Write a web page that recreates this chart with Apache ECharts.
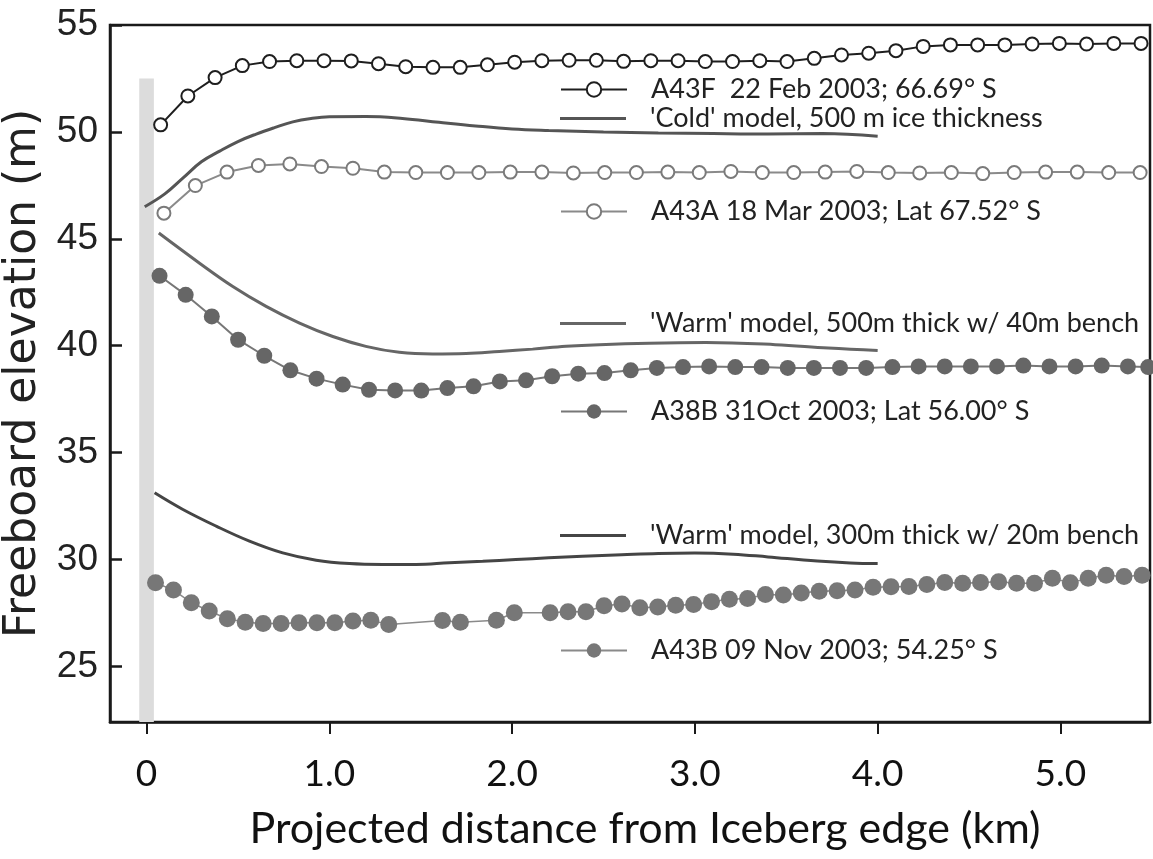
<!DOCTYPE html>
<html>
<head>
<meta charset="utf-8">
<script src="https://cdn.jsdelivr.net/npm/echarts@6/dist/echarts.min.js"></script>
<style>
  html, body { margin: 0; padding: 0; background: #fff; }
  #chart { width: 1153px; height: 859px; }
</style>
</head>
<body>
<div id="chart"></div>
<script>
'use strict'

// A43F 22 Feb 2003 (open black circles)
const xA43F = [0.077, 0.226, 0.375, 0.524, 0.673, 0.822, 0.971, 1.12, 1.269, 1.418, 1.567, 1.716, 1.865, 2.014, 2.163, 2.312, 2.461, 2.61, 2.759, 2.908, 3.057, 3.206, 3.355, 3.504, 3.653, 3.802, 3.951, 4.1, 4.249, 4.398, 4.547, 4.696, 4.845, 4.994, 5.143, 5.292, 5.441]
const yA43F = [50.33, 51.68, 52.54, 53.1, 53.29, 53.33, 53.33, 53.32, 53.19, 53.05, 53.02, 53.02, 53.14, 53.26, 53.33, 53.35, 53.35, 53.3, 53.33, 53.33, 53.29, 53.29, 53.33, 53.29, 53.44, 53.6, 53.68, 53.8, 54.0, 54.07, 54.07, 54.07, 54.11, 54.14, 54.11, 54.14, 54.14]

// A43A 18 Mar 2003 (open grey circles)
const xA43A = [0.095, 0.267, 0.44, 0.612, 0.784, 0.957, 1.129, 1.301, 1.473, 1.646, 1.818, 1.99, 2.163, 2.335, 2.507, 2.68, 2.852, 3.024, 3.197, 3.369, 3.541, 3.713, 3.886, 4.058, 4.23, 4.403, 4.575, 4.747, 4.919, 5.092, 5.264, 5.436]
const yA43A = [46.2, 47.49, 48.12, 48.43, 48.5, 48.38, 48.3, 48.12, 48.1, 48.1, 48.1, 48.12, 48.12, 48.08, 48.1, 48.1, 48.12, 48.1, 48.15, 48.1, 48.1, 48.12, 48.15, 48.1, 48.08, 48.1, 48.05, 48.1, 48.12, 48.12, 48.1, 48.1]

// 'Cold' model, 500 m
const xCold = [-0.01, 0.1, 0.2, 0.3, 0.4, 0.5, 0.6, 0.7, 0.8, 0.9, 1.0, 1.2, 1.4, 1.6, 1.8, 2.0, 2.2, 2.5, 2.8, 3.1, 3.4, 3.7, 4.0]
const yCold = [46.5, 47.1, 47.85, 48.6, 49.1, 49.55, 49.9, 50.2, 50.47, 50.63, 50.71, 50.72, 50.63, 50.45, 50.28, 50.14, 50.07, 50.0, 49.95, 49.92, 49.9, 49.92, 49.8]

// 'Warm' model, 500 m w/ 40 m bench
const xWarm500 = [0.067, 0.29, 0.472, 0.654, 0.837, 1.019, 1.2, 1.383, 1.565, 1.748, 1.93, 2.112, 2.295, 2.477, 2.75, 3.06, 3.44, 3.73, 4.0]
const yWarm500 = [45.27, 43.86, 42.77, 41.84, 41.06, 40.43, 39.97, 39.69, 39.61, 39.63, 39.73, 39.84, 39.97, 40.05, 40.12, 40.15, 40.05, 39.89, 39.78]

// A38B 31 Oct 2003 (filled dark grey)
const xA38B = [0.071, 0.214, 0.357, 0.501, 0.644, 0.787, 0.93, 1.073, 1.217, 1.36, 1.503, 1.646, 1.789, 1.933, 2.076, 2.219, 2.362, 2.505, 2.649, 2.792, 2.935, 3.078, 3.221, 3.365, 3.508, 3.651, 3.794, 3.937, 4.081, 4.224, 4.367, 4.51, 4.653, 4.797, 4.94, 5.083, 5.226, 5.369, 5.48]
const yA38B = [43.27, 42.38, 41.37, 40.28, 39.53, 38.85, 38.46, 38.18, 37.94, 37.91, 37.9, 38.02, 38.1, 38.33, 38.38, 38.57, 38.69, 38.72, 38.85, 38.96, 39.0, 39.03, 39.0, 39.0, 38.96, 38.96, 38.96, 38.96, 39.0, 39.03, 39.03, 39.03, 39.03, 39.07, 39.03, 39.03, 39.07, 39.03, 39.0]

// 'Warm' model, 300 m w/ 20 m bench
const xWarm300 = [0.044, 0.199, 0.381, 0.563, 0.745, 0.928, 1.11, 1.292, 1.475, 1.657, 1.839, 2.02, 2.2, 2.385, 2.6, 2.8, 3.0, 3.21, 3.4, 3.67, 3.85, 4.0]
const yWarm300 = [33.12, 32.34, 31.56, 30.86, 30.31, 29.97, 29.81, 29.77, 29.77, 29.85, 29.92, 30.0, 30.08, 30.15, 30.22, 30.28, 30.3, 30.25, 30.12, 29.93, 29.84, 29.81]

// A43B 09 Nov 2003 (filled grey)
const xA43B = [0.049, 0.147, 0.245, 0.343, 0.442, 0.54, 0.638, 0.736, 0.834, 0.932, 1.03, 1.129, 1.227, 1.325, 1.619, 1.717, 1.914, 2.012, 2.208, 2.306, 2.404, 2.503, 2.601, 2.699, 2.797, 2.895, 2.993, 3.091, 3.189, 3.288, 3.386, 3.484, 3.582, 3.68, 3.778, 3.876, 3.975, 4.073, 4.171, 4.269, 4.367, 4.465, 4.563, 4.662, 4.76, 4.858, 4.956, 5.054, 5.152, 5.25, 5.348, 5.447]
const yA43B = [28.91, 28.57, 27.98, 27.59, 27.23, 27.07, 27.01, 27.01, 27.04, 27.04, 27.04, 27.12, 27.16, 26.96, 27.15, 27.07, 27.16, 27.51, 27.51, 27.56, 27.56, 27.84, 27.92, 27.74, 27.78, 27.86, 27.9, 28.03, 28.14, 28.18, 28.36, 28.34, 28.43, 28.52, 28.54, 28.57, 28.7, 28.73, 28.74, 28.83, 28.92, 28.89, 28.92, 28.96, 28.89, 28.89, 29.12, 28.91, 29.12, 29.26, 29.2, 29.26]

// grey bar marking the iceberg edge
const edgeBand = [-0.04, 0.04]
const edgeTop = 52.5

const xTicks = [0, 1, 2, 3, 4, 5]
const yTicks = [25, 30, 35, 40, 45, 50, 55]

const names = [
    'A43F  22 Feb 2003; 66.69\u00b0 S',
    '\'Cold\' model, 500 m ice thickness',
    'A43A 18 Mar 2003; Lat 67.52\u00b0 S',
    '\'Warm\' model, 500m thick w/ 40m bench',
    'A38B 31Oct 2003; Lat 56.00\u00b0 S',
    '\'Warm\' model, 300m thick w/ 20m bench',
    'A43B 09 Nov 2003; 54.25\u00b0 S'
]

function zip(xs, ys) {
    return xs.map((x, i) => [x, ys[i]])
}

const legendFont = 'Lato, "Open Sans", sans-serif'

// one legend per entry, placed next to its curve like the original
function legendAt(name, centerY, isModel) {
    return {
        data: isModel ? [{ name: name, icon: 'rect' }] : [name],
        left: 560,
        top: centerY - 9,
        padding: 0,
        itemWidth: 66,
        itemHeight: isModel ? 3 : 18,
        selectedMode: false,
        textStyle: {
            fontFamily: legendFont,
            fontSize: 27,
            color: '#222',
            lineHeight: 18,
            padding: [0, 0, 0, 19]
        }
    }
}

const option = {
    animation: false,
    backgroundColor: '#fff',
    grid: {
        left: 110,
        right: 3,
        top: 25,
        bottom: 137,
        outerBoundsMode: 'none',
        containLabel: false,
        show: true,
        borderColor: '#1a1a1a',
        borderWidth: 2.5
    },
    legend: [
        legendAt(names[0], 85, false),
        legendAt(names[1], 114, true),
        legendAt(names[2], 207, false),
        legendAt(names[3], 319, true),
        legendAt(names[4], 407, false),
        legendAt(names[5], 531, true),
        legendAt(names[6], 646, false)
    ],
    xAxis: {
        type: 'value',
        min: -0.2,
        max: 5.49,
        name: 'Projected distance from Iceberg edge (km)',
        nameLocation: 'middle',
        nameGap: 86,
        nameTextStyle: {
            fontFamily: legendFont,
            fontSize: 43,
            color: '#111',
            padding: [0, 0, 0, 30]
        },
        splitLine: { show: false },
        axisLine: { show: true, onZero: false, lineStyle: { color: '#1a1a1a', width: 2.5 } },
        axisTick: {
            show: true,
            inside: false,
            length: 12,
            customValues: xTicks,
            lineStyle: { color: '#1a1a1a', width: 2 }
        },
        axisLabel: {
            customValues: xTicks,
            margin: 34,
            fontFamily: legendFont,
            fontSize: 37,
            color: '#111',
            formatter: v => v === 0 ? '0' : v.toFixed(1)
        }
    },
    yAxis: {
        type: 'value',
        min: 22.4,
        max: 55,
        name: 'Freeboard elevation (m)',
        nameLocation: 'middle',
        nameGap: 40,
        nameRotate: 90,
        nameTextStyle: {
            fontFamily: '"DejaVu Sans", sans-serif',
            fontSize: 44,
            color: '#222'
        },
        splitLine: { show: false },
        axisLine: { show: true, onZero: false, lineStyle: { color: '#1a1a1a', width: 2.5 } },
        axisTick: {
            show: true,
            inside: true,
            length: 12,
            customValues: yTicks,
            lineStyle: { color: '#1a1a1a', width: 2.5 }
        },
        axisLabel: {
            customValues: yTicks,
            margin: 12,
            fontFamily: '"Liberation Sans", Arial, sans-serif',
            fontSize: 37,
            color: '#222'
        }
    },
    series: [
        {
            name: names[0],
            type: 'line',
            data: zip(xA43F, yA43F),
            symbol: 'emptyCircle',
            symbolSize: 13,
            color: '#1e1e1e',
            lineStyle: { color: '#1e1e1e', width: 2 },
            itemStyle: { color: '#1e1e1e', borderWidth: 2.5 },
            z: 5,
            markArea: {
                silent: true,
                itemStyle: { color: '#dcdcdc' },
                data: [[
                    { xAxis: edgeBand[0], yAxis: 22.4 },
                    { xAxis: edgeBand[1], yAxis: edgeTop }
                ]]
            }
        },
        {
            name: names[1],
            type: 'line',
            data: zip(xCold, yCold),
            showSymbol: false,
            symbol: 'none',
            smooth: 0.4,
            color: '#555',
            lineStyle: { color: '#555', width: 3 },
            z: 3
        },
        {
            name: names[2],
            type: 'line',
            data: zip(xA43A, yA43A),
            symbol: 'emptyCircle',
            symbolSize: 13,
            color: '#7a7a7a',
            lineStyle: { color: '#8a8a8a', width: 2 },
            itemStyle: { color: '#7a7a7a', borderWidth: 2.5 },
            z: 5
        },
        {
            name: names[3],
            type: 'line',
            data: zip(xWarm500, yWarm500),
            showSymbol: false,
            symbol: 'none',
            smooth: 0.4,
            color: '#666',
            lineStyle: { color: '#666', width: 3 },
            z: 3
        },
        {
            name: names[4],
            type: 'line',
            data: zip(xA38B, yA38B),
            symbol: 'circle',
            symbolSize: 16,
            color: '#666',
            lineStyle: { color: '#777', width: 2 },
            itemStyle: { color: '#666' },
            z: 5
        },
        {
            name: names[5],
            type: 'line',
            data: zip(xWarm300, yWarm300),
            showSymbol: false,
            symbol: 'none',
            smooth: 0.4,
            color: '#454545',
            lineStyle: { color: '#454545', width: 3 },
            z: 3
        },
        {
            name: names[6],
            type: 'line',
            data: zip(xA43B, yA43B),
            symbol: 'circle',
            symbolSize: 17,
            color: '#777',
            lineStyle: { color: '#8a8a8a', width: 1.5 },
            itemStyle: { color: '#777' },
            z: 5
        }
    ]
}

const myChart = echarts.init(document.getElementById('chart'))
myChart.setOption(option)
</script>
</body>
</html>
